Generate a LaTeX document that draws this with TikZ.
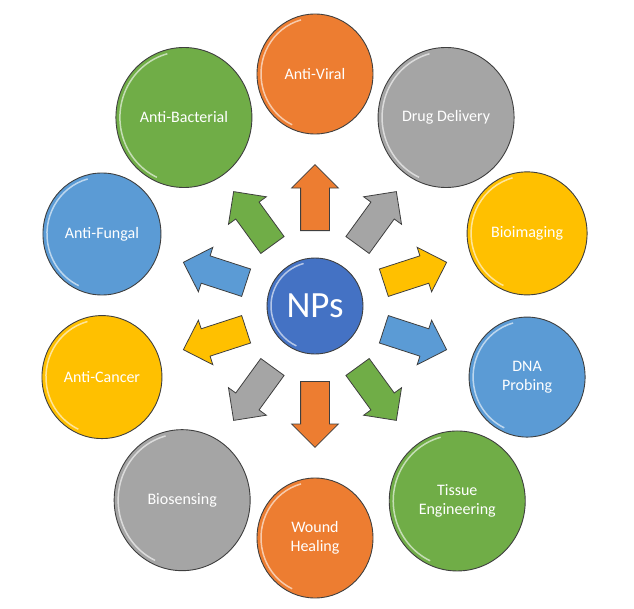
\documentclass[tikz,border=0pt]{standalone}
\usepackage{fontspec}
\setmainfont{Carlito}
\usetikzlibrary{shapes.geometric,shapes.arrows}
\definecolor{orng}{HTML}{ED7D31}
\definecolor{gry}{HTML}{A5A5A5}
\definecolor{yllw}{HTML}{FFC000}
\definecolor{blu}{HTML}{5B9BD5}
\definecolor{grn}{HTML}{70AD47}
\definecolor{npblue}{HTML}{4472C4}
\definecolor{edge}{HTML}{3F3F3F}
\tikzset{
  bubble/.style n args={3}{ellipse, draw=edge, line width=0.9pt, fill=#3, text=white,
    minimum width=#1, minimum height=#2, inner sep=0pt, align=center,
    font=\fontsize{16}{19}\selectfont,
    path picture={\draw[white, opacity=.6, line width=1.5pt]
      (path picture bounding box.center) ++(105:{#1/2-4} and {#2/2-4})
      arc[start angle=105, end angle=245, x radius=#1/2-4, y radius=#2/2-4];}},
  blockarrow/.style={single arrow, draw=edge, line width=.8pt, fill=#1,
    minimum height=66, single arrow head extend=9, single arrow head indent=0pt,
    inner xsep=0pt, inner ysep=14pt}
}
\begin{document}
\begin{tikzpicture}[x=1pt,y=1pt]
    \useasboundingbox (-315,-302) rectangle (319,306);
    \node[bubble={96}{96}{npblue}, font=\fontsize{37}{40}\selectfont] (np) at (0,0) {NPs};
    \foreach [count=\i] \a/\rx/\ry/\w/\h/\col/\txt in {
        90/224/232/116/120/orng/Anti-Viral,
        54/223/233/136/140/gry/Drug Delivery,
        18/223/235/120/123/yllw/Bioimaging,
        -18/223/230/116/120/blu/DNA\\Probing,
        -54/242/241/136/140/grn/Tissue\\Engineering,
        -90/224/232/116/120/orng/Wound\\Healing,
        -126/226/240/136/141/gry/Biosensing,
        -162/224/230/120/123/yllw/Anti-Cancer,
        162/224/233/118/122/blu/Anti-Fungal,
        126/223/233/136/140/grn/Anti-Bacterial}
    {
        \node[bubble={\w}{\h}{\col}] (c\i) at (\a:{\rx} and {\ry}) {\txt};
        \node[blockarrow=\col, rotate=\a, anchor=tail] (a\i) at (\a:72 and 75) {};
    }
\end{tikzpicture}
\end{document}
